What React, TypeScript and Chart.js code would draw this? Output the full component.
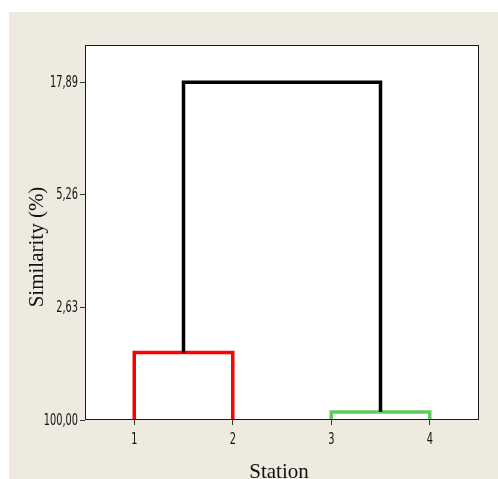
import React, { useEffect, useRef } from "react";
import { Chart, registerables } from "chart.js";

Chart.register(...registerables);

const stations = [1, 2, 3, 4];
const stationLabels = ["1", "2", "3", "4"];
const yTickPositions = [0, 1, 2, 3];
const yTickLabels = ["100,00", "2,63", "5,26", "17,89"];
const yMax = 3.33;

// dendrogram links: [x, y] pairs
const redCluster = [
  { x: 1, y: 0 },
  { x: 1, y: 0.6 },
  { x: 2, y: 0.6 },
  { x: 2, y: 0 },
];
const greenCluster = [
  { x: 3, y: 0 },
  { x: 3, y: 0.07 },
  { x: 4, y: 0.07 },
  { x: 4, y: 0 },
];
const blackLink = [
  { x: 1.5, y: 0.6 },
  { x: 1.5, y: 3 },
  { x: 3.5, y: 3 },
  { x: 3.5, y: 0.07 },
];

const BEIGE = "#EEEAE0";
const TICK_FONT = "'Liberation Sans Narrow', 'DejaVu Sans Condensed', 'DejaVu Sans', sans-serif";
const TITLE_FONT = "'Liberation Serif', 'Times New Roman', serif";

const bgPlugin = {
  id: "bgPlugin",
  beforeDraw(chart: any) {
    const { ctx, width, height, chartArea } = chart;
    ctx.save();
    ctx.fillStyle = "#ffffff";
    ctx.fillRect(0, 0, width, height);
    ctx.fillStyle = BEIGE;
    ctx.fillRect(9, 12, width - 9, height - 12);
    ctx.fillStyle = "#ffffff";
    ctx.fillRect(chartArea.left, chartArea.top, chartArea.right - chartArea.left, chartArea.bottom - chartArea.top);
    ctx.restore();
  },
  afterDraw(chart: any) {
    const { ctx, chartArea, scales } = chart;
    ctx.save();
    ctx.strokeStyle = "#1a1a1a";
    ctx.lineWidth = 1;
    ctx.strokeRect(
      Math.round(chartArea.left) + 0.5,
      Math.round(chartArea.top) + 0.5,
      Math.round(chartArea.right - chartArea.left) - 1,
      Math.round(chartArea.bottom - chartArea.top) - 1
    );

    // tick labels (narrow, drawn at the library's scale positions)
    ctx.fillStyle = "#111111";
    ctx.font = `16px ${TICK_FONT}`;
    yTickPositions.forEach((v, i) => {
      const py = scales.y.getPixelForValue(v);
      ctx.save();
      ctx.translate(chartArea.left - 7, py + 0.5);
      ctx.scale(0.68, 1);
      ctx.textAlign = "right";
      ctx.textBaseline = "middle";
      ctx.fillText(yTickLabels[i], 0, 0);
      ctx.restore();
    });
    stations.forEach((v, i) => {
      const px = scales.x.getPixelForValue(v);
      ctx.save();
      ctx.translate(px, chartArea.bottom + 24);
      ctx.scale(0.68, 1);
      ctx.textAlign = "center";
      ctx.textBaseline = "alphabetic";
      ctx.fillText(stationLabels[i], 0, 0);
      ctx.restore();
    });

    // axis titles
    ctx.fillStyle = "#111111";
    ctx.font = `21px ${TITLE_FONT}`;
    ctx.textAlign = "center";
    ctx.textBaseline = "alphabetic";
    ctx.fillText("Station", (chartArea.left + chartArea.right) / 2 - 3, 478);
    ctx.translate(43, 247);
    ctx.rotate(-Math.PI / 2);
    ctx.fillText("Similarity (%)", 0, 0);
    ctx.restore();
  },
};

export default function App() {
  const canvasRef = useRef<HTMLCanvasElement | null>(null);

  useEffect(() => {
    if (!canvasRef.current) return;
    const chart = new Chart(canvasRef.current, {
      type: "line",
      data: {
        datasets: [
          {
            data: blackLink,
            borderColor: "#000000",
            borderWidth: 3.5,
            pointRadius: 0,
            fill: false,
            tension: 0,
          },
          {
            data: redCluster,
            borderColor: "#FF0000",
            borderWidth: 3.5,
            pointRadius: 0,
            fill: false,
            tension: 0,
          },
          {
            data: greenCluster,
            borderColor: "#5ECC5E",
            borderWidth: 3.5,
            pointRadius: 0,
            fill: false,
            tension: 0,
          },
        ],
      },
      options: {
        animation: false,
        responsive: false,
        maintainAspectRatio: false,
        layout: { padding: { left: 0, top: 45, right: 19, bottom: 0 } },
        plugins: { legend: { display: false }, tooltip: { enabled: false } },
        scales: {
          x: {
            type: "linear",
            min: 0.5,
            max: 4.5,
            afterBuildTicks: (s: any) => {
              s.ticks = stations.map((v) => ({ value: v }));
            },
            afterFit: (s: any) => {
              s.height = 59;
            },
            ticks: { display: false },
            grid: { drawOnChartArea: false, drawTicks: true, tickLength: 5, color: "#333333" },
            border: { display: false },
          },
          y: {
            type: "linear",
            min: 0,
            max: yMax,
            afterBuildTicks: (s: any) => {
              s.ticks = yTickPositions.map((v) => ({ value: v }));
            },
            afterFit: (s: any) => {
              s.width = 85;
            },
            ticks: { display: false },
            grid: { drawOnChartArea: false, drawTicks: true, tickLength: 5, color: "#333333" },
            border: { display: false },
          },
        },
      },
      plugins: [bgPlugin],
    });
    return () => chart.destroy();
  }, []);

  return (
    <div style={{ position: "fixed", left: 0, top: 0, width: 498, height: 479 }}>
      <canvas ref={canvasRef} width={498} height={479} style={{ display: "block", width: 498, height: 479 }} />
    </div>
  );
}
